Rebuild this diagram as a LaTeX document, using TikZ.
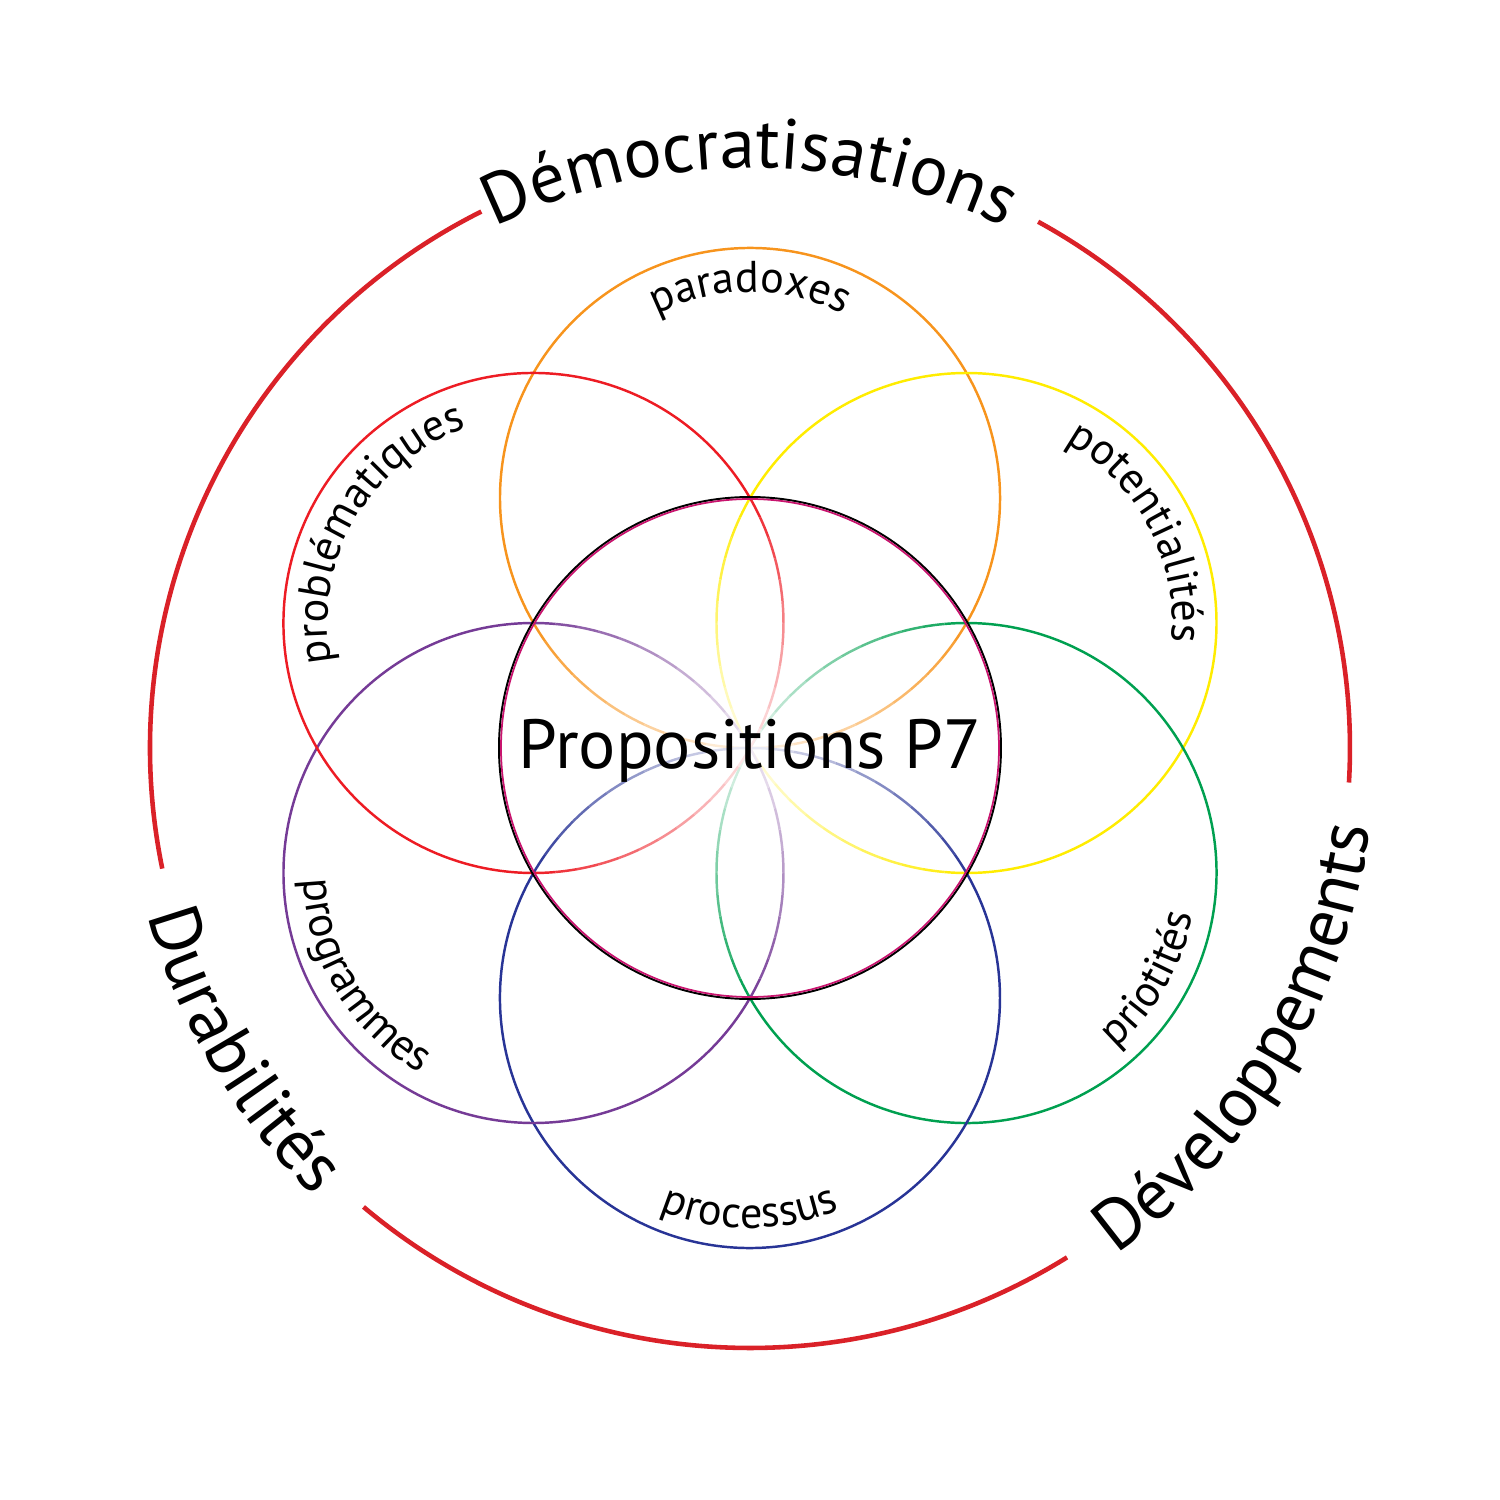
\documentclass[tikz,border=0pt]{standalone}
\usepackage{fontspec}
\setmainfont{PT Sans}
\usetikzlibrary{decorations.text}
\definecolor{petalorange}{RGB}{247,148,29}
\definecolor{petalyellow}{RGB}{255,236,0}
\definecolor{petalgreen}{RGB}{0,160,80}
\definecolor{petalblue}{RGB}{40,52,150}
\definecolor{petalpurple}{RGB}{117,59,150}
\definecolor{petalred}{RGB}{237,28,36}
\definecolor{ringred}{RGB}{218,33,40}
\definecolor{coremag}{RGB}{200,20,110}
\newcommand{\bigfont}{\fontsize{20.2}{24}\selectfont}
\newcommand{\smallfont}{\fontsize{12.6}{15}\selectfont}
\tikzset{petal/.style={line width=0.7pt},
ring/.style={draw=ringred, line width=1.3pt},
curved/.style={decorate, decoration={text along path, text align=center, text={#1}}}}

\begin{document}
\begin{tikzpicture}
        \useasboundingbox (-7.5,-7.52) rectangle (7.5,7.48);
        \coordinate (c) at (0,0);

        \draw[ring] (116.6:6) arc[start angle=116.6, end angle=191.6, radius=6];
        \draw[ring] (229.9:6) arc[start angle=229.9, end angle=301.9, radius=6];
        \draw[ring] (-3.3:6) arc[start angle=-3.3, end angle=61.3, radius=6];

        \foreach \i/\ang/\col in {1/90/petalorange, 2/30/petalyellow, 3/-30/petalgreen,
                                  4/-90/petalblue, 5/-150/petalpurple, 6/150/petalred}{
            \coordinate (p\i) at (\ang:2.5);
            \draw[petal, \col] (p\i) ++(\ang-120:2.5) arc[start angle=\ang-120, end angle=\ang+120, radius=2.5];
            \foreach \k in {0,...,23}{
                \pgfmathsetmacro{\s}{\ang+120+5*\k}
                \pgfmathtruncatemacro{\pct}{8+92*abs(\k*5+2.5-60)/60}
                \draw[petal, \col!\pct!white] (p\i) ++(\s:2.5) arc[start angle=\s, end angle=\s+5, radius=2.5];
            }
        }

        \draw[black, line width=0.55pt] (c) circle (2.51);
        \draw[coremag, line width=0.5pt] (c) circle (2.49);

        \node[font=\fontsize{19.8}{22}\selectfont, anchor=base, inner sep=0pt] (prop) at (0,-0.2) {Propositions P7};

        \path[curved={|\bigfont|Démocratisations}] (180:5.8) arc[start angle=180, end angle=0, radius=5.8];
        \path[curved={|\bigfont|Développements}] (-120.7:6.25) arc[start angle=-120.7, end angle=59.3, radius=6.25];
        \path[curved={|\bigfont|Durabilités}] (120.7:6.25) arc[start angle=120.7, end angle=300.7, radius=6.25];

        \path[curved={|\smallfont|paradoxes}] (p1) ++(180:2.06) arc[start angle=180, end angle=0, radius=2.06];
        \path[curved={|\smallfont|potentialités}] (p2) ++(118:2.06) arc[start angle=118, end angle=-62, radius=2.06];
        \path[curved={|\smallfont|problématiques}] (p6) ++(240:2.06) arc[start angle=240, end angle=60, radius=2.06];
        \path[curved={|\smallfont|priotités}] (p3) ++(-120:2.3) arc[start angle=-120, end angle=60, radius=2.3];
        \path[curved={|\smallfont|processus}] (p4) ++(-180:2.3) arc[start angle=-180, end angle=0, radius=2.3];
        \path[curved={|\smallfont|programmes}] (p5) ++(121:2.3) arc[start angle=121, end angle=301, radius=2.3];
    \end{tikzpicture}
\end{document}
